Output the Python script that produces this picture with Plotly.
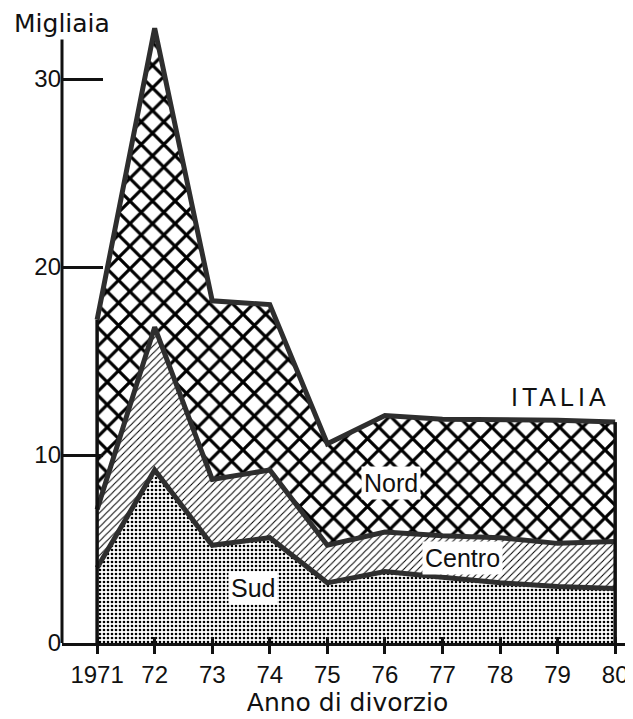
import plotly.graph_objects as go

years = [1971, 1972, 1973, 1974, 1975, 1976, 1977, 1978, 1979, 1980]
tick_labels = ["1971", "72", "73", "74", "75", "76", "77", "78", "79", "80"]
sud = [4.0, 9.2, 5.2, 5.6, 3.2, 3.8, 3.5, 3.2, 3.0, 2.9]
centro = [3.1, 7.6, 3.5, 3.6, 2.0, 2.1, 2.2, 2.4, 2.3, 2.5]
nord = [10.1, 15.9, 9.5, 8.8, 5.4, 6.2, 6.2, 6.3, 6.55, 6.35]

FONT = "Liberation Sans, Arial, sans-serif"
WIDE = "DejaVu Sans, Liberation Sans, sans-serif"
LINE = "#2e2e2e"

fig = go.Figure()
fig.add_trace(go.Scatter(
    x=years, y=sud, stackgroup="one", mode="lines",
    line=dict(color=LINE, width=5),
    fillcolor="white",
    fillpattern=dict(shape=".", size=4, solidity=0.35, fgcolor="#000",
                     fgopacity=1, bgcolor="white"),
    name="Sud"))
fig.add_trace(go.Scatter(
    x=years, y=centro, stackgroup="one", mode="lines",
    line=dict(color=LINE, width=5),
    fillcolor="white",
    fillpattern=dict(shape="/", size=5, solidity=0.2, fgcolor="#000",
                     fgopacity=1, bgcolor="white"),
    name="Centro"))
fig.add_trace(go.Scatter(
    x=years, y=nord, stackgroup="one", mode="lines",
    line=dict(color=LINE, width=5),
    fillcolor="white",
    fillpattern=dict(shape="x", size=16, solidity=0.36, fgcolor="#000",
                     fgopacity=1, bgcolor="white"),
    name="Nord"))

total = [s + c + n for s, c, n in zip(sud, centro, nord)]
# vertical edges at first and last year
for i in (0, -1):
    fig.add_trace(go.Scatter(x=[years[i], years[i]], y=[0, total[i]], mode="lines",
                             line=dict(color="#111", width=3.5), hoverinfo="skip"))

annos = [
    dict(x=1976.1, y=8.5, text="Nord", size=25),
    dict(x=1977.35, y=4.5, text="Centro", size=25),
    dict(x=1973.7, y=2.9, text="Sud", size=25),
]
for a in annos:
    fig.add_annotation(x=a["x"], y=a["y"], text=a["text"], showarrow=False,
                       bgcolor="white", font=dict(family=FONT, size=a["size"], color="#111"),
                       borderpad=2)
fig.add_annotation(x=1979.05, y=13.1, text='<span style="letter-spacing:4px">ITALIA</span>',
                   showarrow=False, font=dict(family=FONT, size=25, color="#111"))
fig.add_annotation(xref="paper", yref="paper", x=-0.0876, y=0.995, xanchor="left",
                   yanchor="middle", text="Migliaia", showarrow=False,
                   font=dict(family=WIDE, size=25, color="#111"))

# y axis line
fig.add_shape(type="line", xref="paper", yref="y", x0=0, x1=0, y0=0, y1=32.1,
              line=dict(color="#111", width=3))

fig.add_trace(go.Scatter(x=[years[0]], y=[0], xaxis="x2", mode="markers",
                         marker=dict(opacity=0), hoverinfo="skip"))

fig.update_layout(
    width=625, height=711,
    margin=dict(l=54, r=0, t=12, b=76),
    paper_bgcolor="white", plot_bgcolor="white",
    showlegend=False,
    font=dict(family=FONT, color="#111"),
    xaxis=dict(range=[1970.39, 1980.31], tickvals=years, ticktext=tick_labels,
               showgrid=False, zeroline=False, showline=True, linecolor="#111",
               linewidth=3, ticks="outside", ticklen=8, tickwidth=2.5, tickcolor="#111",
               tickfont=dict(size=24), automargin=False,
               title=dict(text="Anno di divorzio", font=dict(family=WIDE, size=25),
                          standoff=4)),
    xaxis2=dict(range=[1970.39, 1980.31], tickvals=years, showticklabels=False,
                overlaying="x", anchor="y", side="bottom", showgrid=False,
                zeroline=False, ticks="inside", ticklen=6, tickwidth=2.5,
                tickcolor="#111", automargin=False),
    yaxis=dict(range=[0, 33.14], tickvals=[0, 10, 20, 30], showgrid=False,
               zeroline=False, showline=False, ticks="inside", ticklen=41,
               tickwidth=3, tickcolor="#111", tickfont=dict(size=24), automargin=False),
)

fig.write_html("out.html")
